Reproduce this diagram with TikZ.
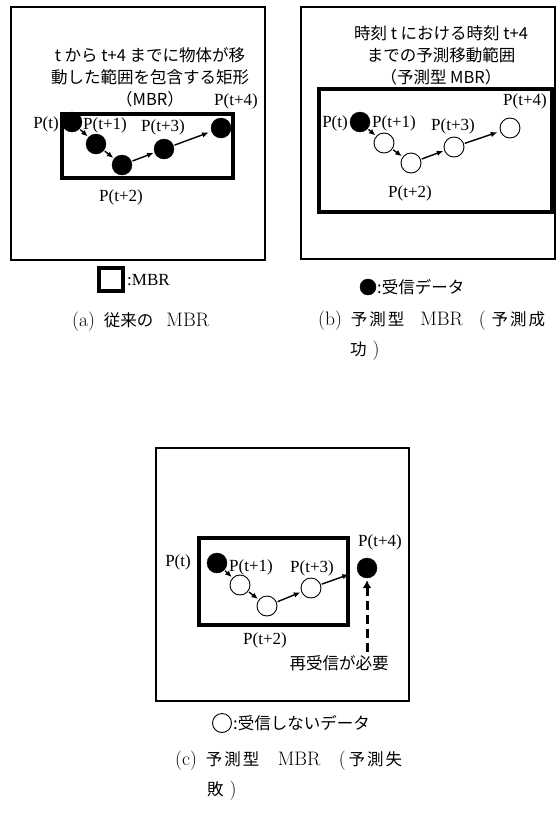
\documentclass[tikz,border=0pt]{standalone}
\usepackage{fontspec}
\newfontfamily\jp{Noto Sans CJK JP}
\newfontfamily\tms{Liberation Serif}
\usetikzlibrary{arrows.meta}
\newcommand\jpc[1]{{\jp\fontsize{16.5}{16.5}\selectfont #1}}
\begin{document}
\begin{tikzpicture}[x=1pt,y=-1pt,
  panel/.style={draw, line width=1.6pt},
  mbr/.style={draw, line width=4pt},
  full/.style={circle, fill=black, draw=black, minimum size=20pt, inner sep=0pt},
  empty/.style={circle, fill=white, draw=black, line width=0.9pt, minimum size=20pt, inner sep=0pt},
  plab/.style={font=\tms\fontsize{17}{17}\selectfont, inner sep=0pt},
  jtxt/.style={font=\jp\fontsize{16.5}{22}\selectfont, align=center, inner sep=0pt},
  arr/.style={-{Latex[length=6.5pt,width=5.5pt]}, line width=1.4pt, shorten >=1pt, shorten <=1pt},
  dasharr/.style={-{Latex[length=8pt,width=9pt]}, line width=3pt, dash pattern=on 9pt off 5pt, shorten >=2pt},
  captxt/.style={font=\fontsize{19.5}{30}\selectfont, inner sep=0pt, align=left}
]
\useasboundingbox (0,0) rectangle (557,833);

% ---------- panel (a)
\draw[panel] (11,7) rectangle (265,260);
\node[jtxt] (ta) at (150,77) {t から t+4 までに物体が移\\動した範囲を包含する矩形\\（MBR）};
\draw[mbr] (62,114) rectangle (233,178);
\node[full] (a0) at (72,122) {};
\node[full] (a1) at (96,144) {};
\node[full] (a2) at (122,165) {};
\node[full] (a3) at (164,149) {};
\node[full] (a4) at (221,128) {};
\draw[arr] (a0) -- (a1);
\draw[arr] (a1) -- (a2);
\draw[arr] (a2) -- (a3);
\draw[arr, shorten >=3pt] (a3) -- (a4);
\node[plab] (la0) at (46,124) {P(t)};
\node[plab] (la1) at (105,125) {P(t+1)};
\node[plab] (la3) at (163,127) {P(t+3)};
\node[plab] (la4) at (236,101) {P(t+4)};
\node[plab] (la2) at (121,197) {P(t+2)};
\draw[mbr] (99,268) rectangle (123,291);
\node[plab, anchor=west] (lga) at (127,280) {:MBR};

% ---------- panel (b)
\draw[panel] (301,7) rectangle (555,259);
\node[jtxt] (tb) at (441,55) {時刻 t における時刻 t+4\\までの予測移動範囲\\（予測型 MBR）};
\draw[mbr] (319,89) rectangle (552,212);
\node[full] (b0) at (360,122) {};
\node[empty] (b1) at (384,143) {};
\node[empty] (b2) at (411,163) {};
\node[empty] (b3) at (454,147) {};
\node[empty] (b4) at (510,128) {};
\draw[arr] (b0) -- (b1);
\draw[arr] (b1) -- (b2);
\draw[arr] (b2) -- (b3);
\draw[arr, shorten >=3pt] (b3) -- (b4);
\node[plab] (lb0) at (335,123) {P(t)};
\node[plab] (lb1) at (394,123) {P(t+1)};
\node[plab] (lb3) at (453,126) {P(t+3)};
\node[plab] (lb4) at (525,101) {P(t+4)};
\node[plab] (lb2) at (410,193) {P(t+2)};
\node[full, minimum size=16pt] (lgbc) at (368,287) {};
\node[font=\jp\fontsize{16.5}{16.5}\selectfont, anchor=west, inner sep=0pt] (lgb) at (377,287) {:受信データ};

% ---------- panel (c)
\draw[panel] (156,448) rectangle (409,701);
\draw[mbr] (199,538) rectangle (348,625);
\node[full] (c0) at (217,563) {};
\node[empty] (c1) at (240,585) {};
\node[empty] (c2) at (267,606) {};
\node[empty] (c3) at (311,588) {};
\node[full] (c4) at (367,568) {};
\draw[arr] (c0) -- (c1);
\draw[arr] (c1) -- (c2);
\draw[arr] (c2) -- (c3);
\draw[arr, shorten >=9pt] (c3) -- (c4);
\node[plab] (lc0) at (178,562) {P(t)};
\node[plab] (lc1) at (251,567) {P(t+1)};
\node[plab] (lc3) at (312,568) {P(t+3)};
\node[plab] (lc4) at (380,542) {P(t+4)};
\node[plab] (lc2) at (265,640) {P(t+2)};
\node[font=\jp\fontsize{16.5}{16.5}\selectfont, inner sep=0pt] (req) at (339,663) {再受信が必要};
\coordinate (dq) at (367,652);
\draw[dasharr] (dq) -- (c4);
\node[empty, minimum size=19pt] (lgcc) at (222,723) {};
\node[font=\jp\fontsize{16.5}{16.5}\selectfont, anchor=west, inner sep=0pt] (lgc) at (233,723) {:受信しないデータ};

% ---------- captions
\node[captxt, anchor=west] (capa) at (72,322) {(a)\hspace{9pt}\jpc{従来の}\hspace{13pt}MBR};
\node[captxt, anchor=north west] (capb) at (318,311) {\hbox to 227pt{(b)\hspace{9pt}\jpc{予}\hspace{2pt}\jpc{測}\hspace{2pt}\jpc{型}\hfill MBR\hfill(\hspace{6pt}\jpc{予}\hspace{2pt}\jpc{測}\hspace{2pt}\jpc{成}}\\\hspace{32pt}\jpc{功}\hspace{6pt})};
\node[captxt, anchor=north west] (capc) at (175,751) {\hbox to 227pt{(c)\hspace{9pt}\jpc{予}\hspace{2pt}\jpc{測}\hspace{2pt}\jpc{型}\hfill MBR\hfill(\hspace{3pt}\jpc{予}\hspace{2pt}\jpc{測}\hspace{2pt}\jpc{失}}\\\hspace{32pt}\jpc{敗}\hspace{6pt})};
\end{tikzpicture}
\end{document}
